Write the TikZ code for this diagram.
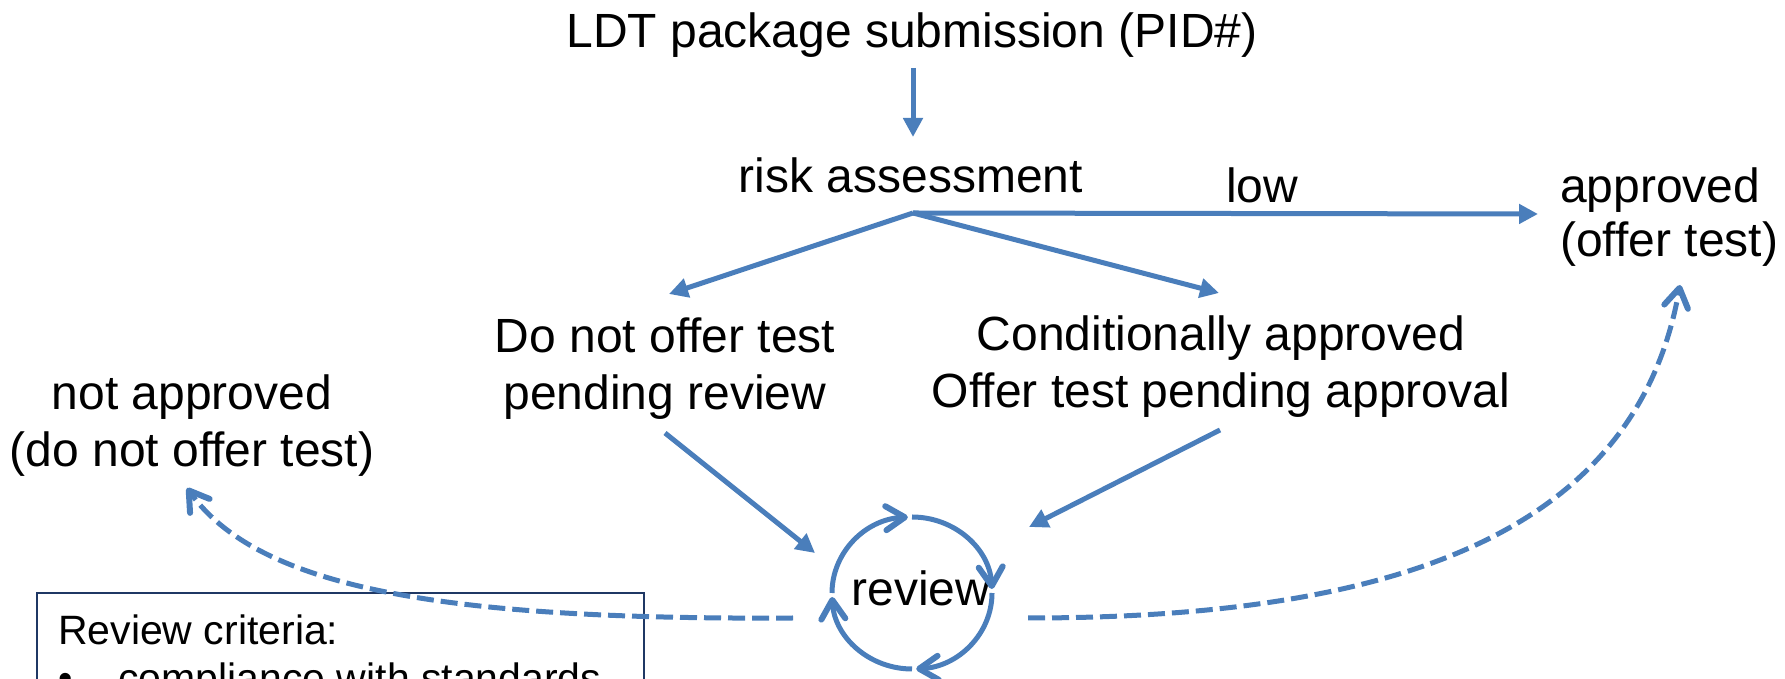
\documentclass[tikz,border=0pt]{standalone}
\usepackage{fontspec}
\setmainfont{Liberation Sans}
\usetikzlibrary{positioning}
\usetikzlibrary{calc}
\usetikzlibrary{arrows.meta}

\definecolor{flowblue}{RGB}{74,126,187}
\definecolor{boxnavy}{RGB}{31,56,100}

\tikzset{
  lbl/.style={inner sep=0pt, anchor=base, font=\fontsize{48}{57}\selectfont},
  crit/.style={inner sep=0pt, anchor=base west, align=left, font=\fontsize{41}{48}\selectfont},
  flow/.style={draw=flowblue, line width=5pt, -{Triangle[length=19pt,width=19pt]}},
  barb/.style={-{Straight Barb[length=19pt,width=24pt,line width=6pt,round]}},
  maybe/.style={draw=flowblue, line width=5pt, dash pattern=on 17pt off 7pt, barb},
  turn/.style={draw=flowblue, line width=5pt, barb}
}

\begin{document}
\begin{tikzpicture}[x=1pt,y=1pt]
\useasboundingbox (0,0) rectangle (1785,679);
\clip (0,0) rectangle (1785,679);

% labels (two-line ones sit on their last line)
\node[lbl](ldt) at (912,631){LDT package submission (PID\#)};
\node[lbl](risk) at (911,486){risk assessment};
\node[lbl](low) at (1262,476){low};
\node[lbl, anchor=base west, align=left, font=\fontsize{48}{54}\selectfont](ok) at (1560,422){approved\\(offer test)};
\node[lbl, align=center](dno) at (665,269){Do not offer test\\pending review};
\node[lbl, align=center](cond) at (1221,271){Conditionally approved\\Offer test pending approval};
\node[lbl, align=center](nok) at (192,212){not approved\\(do not offer test)};
\node[lbl](rev) at (921,73){review};
\node[crit](crit) at (58,-14){Review criteria:\\\makebox[60pt][l]{•}compliance with standards};

\coordinate (split) at (913,466);
\coordinate (loop) at (912,86);
\coordinate (ldtout) at (913,611);
\coordinate (riskin) at (913,542);
\coordinate (okin) at (1538,465);
\coordinate (dnoin) at (669,385);
\coordinate (condin) at (1219,386);
\coordinate (dnoout) at (665,246);
\coordinate (condout) at (1220,249);
\coordinate (revl) at (815,126);
\coordinate (revr) at (1029,152);
\coordinate (revw) at (793,61);
\coordinate (reve) at (1028,61);
\coordinate (nokin) at (187,191);
\coordinate (okup) at (1680,394);

% criteria box
\draw[boxnavy, line width=1.5pt] (37,86) rectangle (644,-60);

\path
(ldtout) edge[flow] (riskin)
(split) edge[flow] (okin)
(split) edge[flow] (dnoin)
(split) edge[flow] (condin)
(dnoout) edge[flow] (revl)
(condout) edge[flow] (revr);

% review loop
\foreach \a in {180,90,0,-90}
  \draw[turn] ($(loop)+(\a:80 and 76)$) arc[start angle=\a, end angle=\a-87, x radius=80, y radius=76];

\draw[maybe] (revw) .. controls (450,59) and (260,89) .. (nokin);
\draw[maybe] (reve) .. controls (1400,61) and (1636,148) .. (okup);
\end{tikzpicture}
\end{document}
